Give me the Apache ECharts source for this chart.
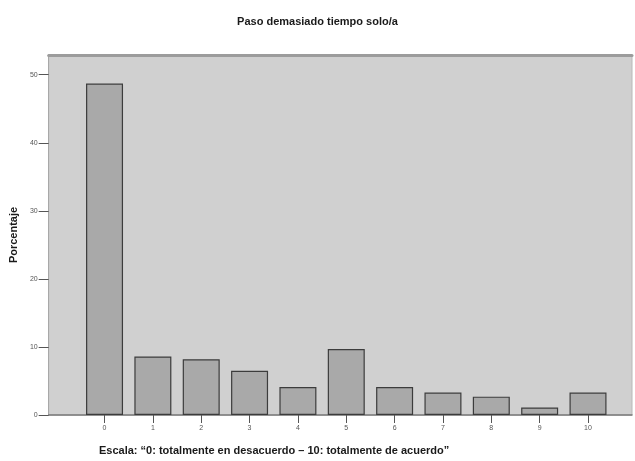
<!DOCTYPE html>
<html>
<head>
<meta charset="utf-8">
<script src="https://cdn.jsdelivr.net/npm/echarts@6/dist/echarts.min.js"></script>
<style>html,body{margin:0;padding:0;background:#fff;}#c{width:635px;height:461px;}</style>
</head>
<body>
<div id="c"></div>
<script>
var categories = [0, 1, 2, 3, 4, 5, 6, 7, 8, 9, 10];
var values = [48.7, 8.6, 8.2, 6.5, 4.1, 9.7, 4.1, 3.3, 2.7, 1.1, 3.3];
var yTicks = [0, 10, 20, 30, 40, 50];
var titleText = 'Paso demasiado tiempo solo/a';
var xTitle = 'Escala: \u201C0: totalmente en desacuerdo \u2013 10: totalmente de acuerdo\u201D';
var yTitle = 'Porcentaje';

var chart = echarts.init(document.getElementById('c'), null, {renderer: 'canvas'});
var font = 'Liberation Sans, Arial, sans-serif';
chart.setOption({
  animation: false,
  backgroundColor: '#ffffff',
  title: [
    {text: titleText, left: 'center', top: 11,
     textStyle: {fontFamily: font, fontSize: 11, fontWeight: 'bold', color: '#1a1a1a'}},
    {text: xTitle, left: 94, top: 440,
     textStyle: {fontFamily: font, fontSize: 11, fontWeight: 'bold', color: '#1a1a1a'}}
  ],
  grid: {left: 47, right: 3, top: 55, bottom: 46, show: true,
         backgroundColor: '#d0d0d0', borderColor: '#b8b8b8', borderWidth: 1},
  xAxis: [{
    type: 'value', min: -1.155, max: 10.91,
    axisLine: {show: true, onZero: false, lineStyle: {color: '#7a7a7a', width: 1.5}},
    axisTick: {show: true, length: 8, customValues: categories, lineStyle: {color: '#555'}},
    axisLabel: {customValues: categories, fontFamily: font, fontSize: 7, color: '#555', margin: 10},
    splitLine: {show: false}
  }, {
    type: 'value', position: 'top', min: -1.155, max: 10.91,
    axisLine: {show: true, onZero: false, lineStyle: {color: '#9c9c9c', width: 3}},
    axisTick: {show: false}, axisLabel: {show: false}, splitLine: {show: false}
  }],
  yAxis: {
    type: 'value', min: 0, max: 52.9,
    name: yTitle, nameLocation: 'middle', nameGap: 10, nameRotate: 90,
    nameTextStyle: {fontFamily: font, fontSize: 11, fontWeight: 'bold', color: '#1a1a1a'},
    axisLine: {show: true, onZero: false, lineStyle: {color: '#a8a8a8'}},
    axisTick: {show: true, length: 10, customValues: yTicks, lineStyle: {color: '#555'}},
    axisLabel: {customValues: yTicks, fontFamily: font, fontSize: 7, color: '#555', margin: 11},
    splitLine: {show: false}
  },
  series: [{
    type: 'bar', xAxisIndex: 0,
    data: categories.map(function (c, i) { return [c, values[i]]; }),
    barWidth: 37,
    itemStyle: {color: '#a9a9a9', borderColor: '#3c3c3c', borderWidth: 1.2}
  }]
});
</script>
</body>
</html>
